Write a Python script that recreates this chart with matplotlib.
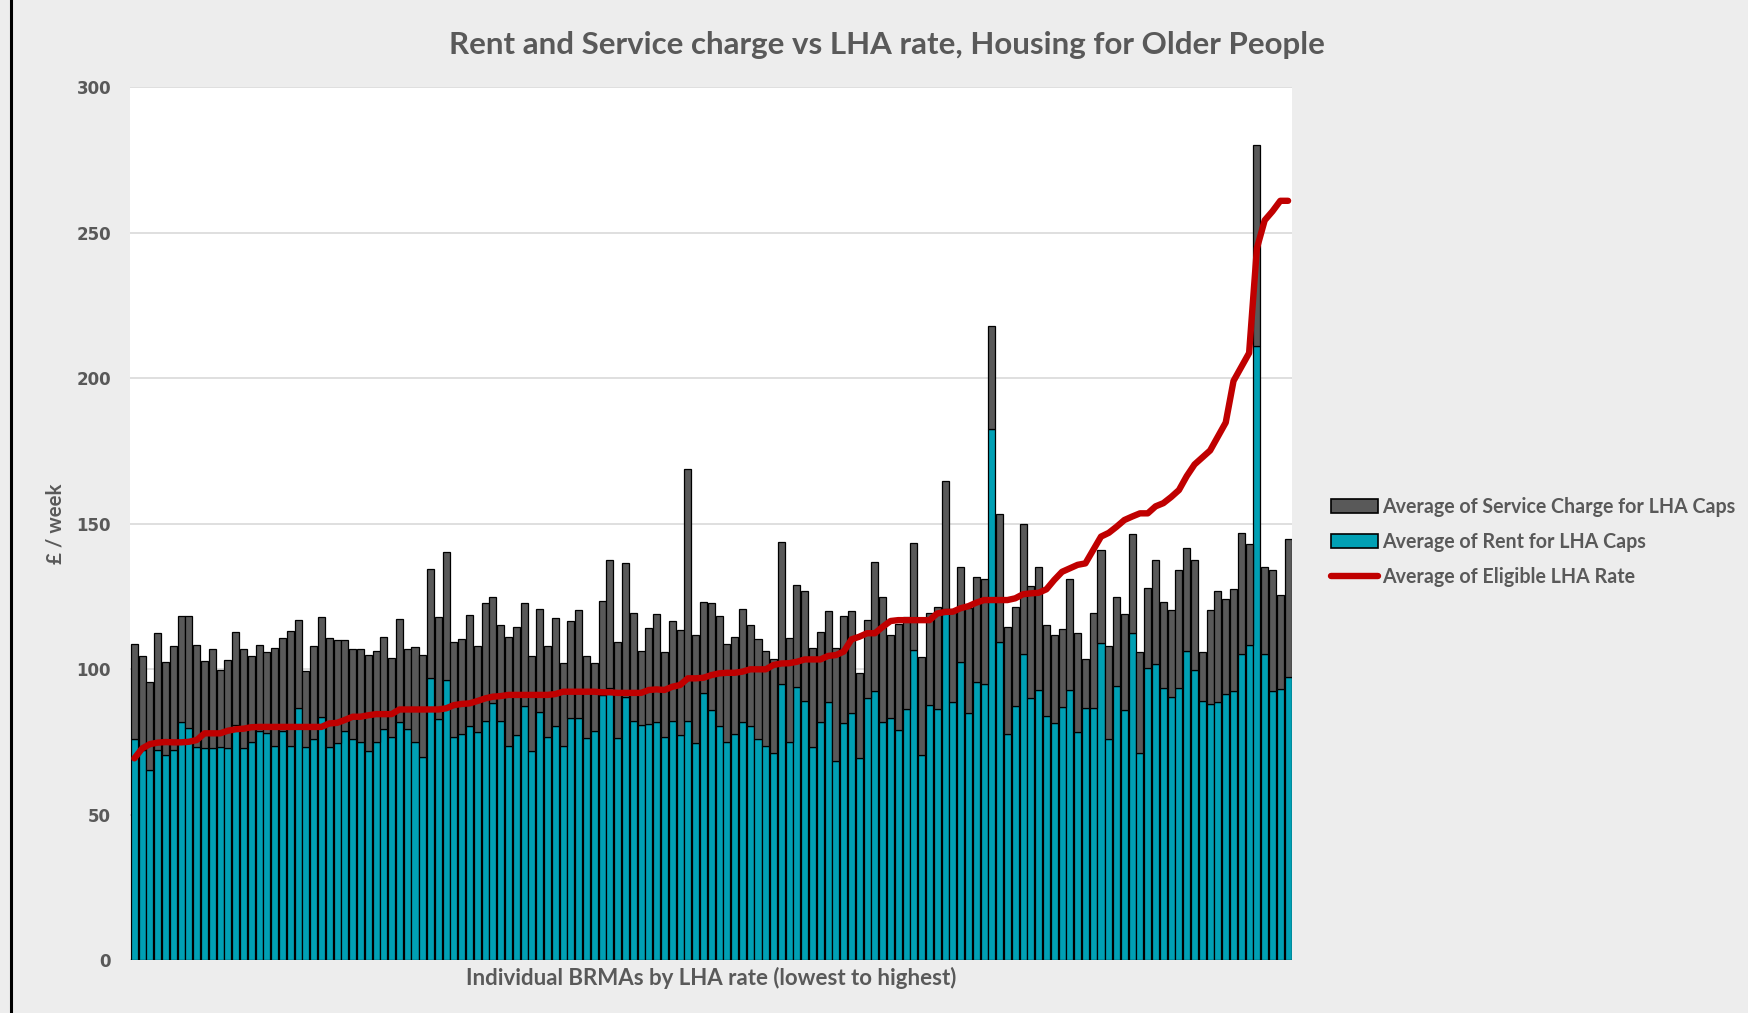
import numpy as np
import matplotlib
matplotlib.use("Agg")
import matplotlib.pyplot as plt
from matplotlib.patches import Patch
from matplotlib.lines import Line2D

# Average of Rent for LHA Caps, one value per BRMA (sorted by LHA rate)
rent = [76.0, 72.0, 65.3, 72.2, 70.4, 72.2, 81.7, 79.6, 73.1, 72.9,
        72.9, 73.1, 72.7, 80.8, 72.9, 74.8, 78.7, 78.1, 73.7, 78.7,
        73.7, 86.5, 73.3, 75.8, 83.6, 73.3, 74.7, 78.7, 75.8, 75.0,
        71.9, 75.0, 79.3, 76.5, 81.8, 79.3, 74.8, 69.9, 96.8, 82.9,
        96.2, 76.7, 77.6, 80.4, 78.2, 82.1, 88.4, 82.1, 73.5, 77.2,
        87.3, 71.8, 85.3, 76.5, 80.4, 73.5, 83.3, 83.3, 76.2, 78.7,
        91.0, 93.6, 76.2, 90.4, 82.1, 80.6, 81.0, 81.7, 76.7, 82.1,
        77.2, 82.1, 74.5, 91.6, 85.9, 80.4, 74.8, 77.6, 81.7, 80.4,
        75.8, 73.7, 71.2, 94.7, 75.0, 93.9, 89.0, 73.3, 81.9, 88.5,
        68.4, 81.6, 84.8, 69.3, 89.9, 92.4, 81.9, 83.3, 79.0, 86.1,
        106.5, 70.4, 87.6, 86.1, 120.5, 88.8, 102.5, 84.8, 95.6, 95.0,
        182.4, 109.4, 77.7, 87.4, 105.0, 89.9, 92.8, 83.8, 81.3, 87.0,
        92.8, 78.5, 86.7, 86.7, 108.8, 76.1, 94.2, 85.9, 112.3, 71.2,
        100.3, 101.6, 93.6, 90.4, 93.6, 106.1, 99.7, 89.1, 88.0, 88.8,
        91.5, 92.5, 105.1, 108.3, 211.0, 105.3, 92.3, 93.1, 97.1]

# Average of Service Charge for LHA Caps (stacked on top of rent)
service = [32.6, 32.6, 30.1, 40.1, 31.9, 35.7, 36.6, 38.7, 35.1, 29.8,
           34.0, 26.4, 30.4, 31.8, 34.0, 29.6, 29.5, 27.7, 33.6, 32.1,
           39.4, 30.3, 25.9, 32.2, 34.4, 37.2, 35.3, 31.3, 31.1, 31.9,
           32.9, 31.2, 31.6, 27.2, 35.4, 27.6, 32.8, 34.9, 37.6, 35.1,
           43.9, 32.5, 32.8, 38.0, 29.8, 40.5, 36.5, 33.0, 37.4, 37.1,
           35.3, 32.7, 35.4, 31.5, 37.2, 28.5, 33.3, 37.1, 28.3, 23.3,
           32.4, 43.7, 33.0, 46.1, 37.0, 25.7, 33.0, 37.1, 29.3, 34.5,
           36.2, 86.5, 37.2, 31.4, 36.7, 37.9, 33.7, 33.5, 38.8, 34.7,
           34.4, 32.6, 32.2, 49.1, 35.5, 35.0, 37.9, 34.0, 30.7, 31.4,
           38.9, 36.7, 35.1, 29.4, 26.9, 44.3, 43.0, 28.4, 36.4, 31.9,
           36.9, 33.6, 31.5, 35.1, 44.2, 31.7, 32.7, 36.2, 35.9, 35.8,
           35.6, 43.9, 36.6, 34.0, 44.7, 38.7, 42.4, 31.3, 30.4, 26.9,
           38.1, 33.8, 16.6, 32.4, 32.1, 31.9, 30.7, 33.0, 34.0, 34.7,
           27.7, 35.9, 29.6, 29.9, 40.3, 35.4, 37.8, 16.8, 32.3, 38.0,
           32.5, 35.0, 41.7, 34.8, 69.0, 29.8, 41.7, 32.5, 47.6]

# Average of Eligible LHA Rate
lha = [69.3, 72.7, 74.2, 74.7, 74.9, 74.8, 74.8, 75.0, 75.6, 77.9,
       77.9, 77.9, 78.8, 79.3, 79.5, 80.0, 80.1, 80.1, 80.1, 80.1,
       80.1, 80.1, 80.1, 80.1, 80.1, 81.3, 81.5, 82.5, 83.6, 83.6,
       84.1, 84.5, 84.5, 84.5, 86.1, 86.1, 86.1, 86.1, 86.1, 86.1,
       86.5, 87.6, 88.0, 88.2, 89.0, 89.9, 90.5, 90.7, 91.1, 91.1,
       91.1, 91.1, 91.1, 91.1, 91.4, 92.2, 92.2, 92.2, 92.2, 92.2,
       92.0, 92.0, 91.8, 91.8, 91.8, 91.8, 92.8, 93.0, 92.8, 93.9,
       94.5, 96.8, 96.8, 97.0, 97.9, 98.5, 98.7, 98.7, 99.1, 99.9,
       99.9, 99.9, 101.4, 101.9, 102.0, 102.5, 103.3, 103.3, 103.3, 104.5,
       104.8, 106.0, 110.2, 111.1, 112.3, 112.3, 114.5, 116.5, 116.8, 116.8,
       116.8, 116.8, 116.8, 119.1, 119.6, 119.7, 120.9, 121.6, 122.8, 123.7,
       123.7, 123.7, 123.7, 124.3, 125.7, 126.0, 126.2, 127.4, 130.6, 133.4,
       134.6, 135.8, 136.3, 140.9, 145.5, 146.8, 148.9, 151.2, 152.4, 153.5,
       153.5, 155.9, 157.0, 159.1, 161.5, 166.3, 170.3, 172.7, 175.1, 179.9,
       184.7, 199.0, 203.8, 208.6, 244.6, 254.2, 257.3, 260.9, 260.9]

TEAL = '#00A0B4'
GREY = '#595959'
RED = '#C00000'
TXT = '#595959'
BG = '#EDEDED'

x = np.arange(len(rent))

fig = plt.figure(figsize=(17.49, 10.13), dpi=100, facecolor=BG)
ax = fig.add_axes([0.0746, 0.0523, 0.6641, 0.8618])
ax.set_facecolor('white')

ax.bar(x, rent, width=0.9, color=TEAL, edgecolor='black', linewidth=0.9, zorder=2)
ax.bar(x, service, bottom=rent, width=0.9, color=GREY, edgecolor='black', linewidth=0.9, zorder=2)
ax.plot(x, lha, color=RED, linewidth=4.6, solid_capstyle='round', solid_joinstyle='round', zorder=3)

ax.set_xlim(-0.5, len(rent) - 0.5)
ax.set_ylim(0, 300)
ax.set_yticks(range(0, 301, 50))
ax.set_xticks([])
ax.grid(axis='y', color='#D9D9D9', linewidth=1.2, zorder=0)
ax.set_axisbelow(True)
for s in ax.spines.values():
    s.set_visible(False)
ax.tick_params(axis='y', length=0, pad=14, labelcolor=TXT, labelsize=12)
for lab in ax.get_yticklabels():
    lab.set_fontfamily('DejaVu Sans')
    lab.set_fontweight('bold')

fig.text(0.507, 0.956, 'Rent and Service charge vs LHA rate, Housing for Older People',
         ha='center', va='center', fontsize=22.5, fontweight='bold', color=TXT, family='Lato')
fig.text(0.4066, 0.0345, 'Individual BRMAs by LHA rate (lowest to highest)',
         ha='center', va='center', fontsize=16, fontweight='bold', color=TXT, family='Lato')
fig.text(0.0319, 0.4827, '£ / week', ha='center', va='center', rotation=90,
         fontsize=14.7, fontweight='bold', color=TXT, family='Lato')

handles = [Patch(facecolor=GREY, edgecolor='black', linewidth=1.2),
           Patch(facecolor=TEAL, edgecolor='black', linewidth=1.2),
           Line2D([0], [0], color=RED, linewidth=4.6, solid_capstyle='round')]
labels = ['Average of Service Charge for LHA Caps', 'Average of Rent for LHA Caps',
          'Average of Eligible LHA Rate']
fig.legend(handles, labels, loc='center left', bbox_to_anchor=(0.7507, 0.465),
           frameon=False, handlelength=2.4, handleheight=0.7, handletextpad=0.25,
           labelspacing=0.78, labelcolor=TXT,
           prop={'family': 'Lato', 'weight': 'bold', 'size': 14.1})

# black border on the left side of the picture
fig.add_artist(Line2D([0.0063, 0.0063], [0, 1], color='black', linewidth=2.2,
                      transform=fig.transFigure))

fig.savefig('out.png', dpi=100, facecolor=BG)
